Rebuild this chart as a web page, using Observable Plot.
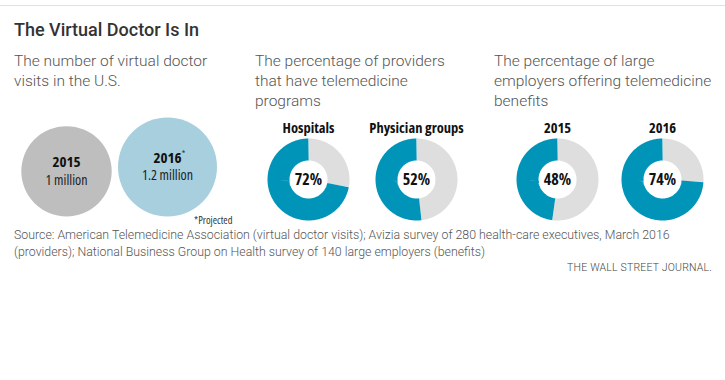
<!DOCTYPE html>
<html>
<head>
<meta charset="utf-8">
<script src="https://cdn.jsdelivr.net/npm/d3@7"></script>
<script src="https://cdn.jsdelivr.net/npm/@observablehq/plot@0.6"></script>
<style>
  body { margin: 0; background: #fff; font-family: Roboto, "Noto Sans", sans-serif; }
  #wrap { position: relative; width: 725px; height: 380px; overflow: hidden; }
  .abs { position: absolute; }
  .rule { left: 0; top: 5px; width: 725px; height: 1px; background: #e0e0e0; }
  .title { left: 14px; top: 20px; font-size: 18px; font-weight: 500; color: #333; line-height: 20px; white-space: nowrap; }
  .sub { top: 51px; font-size: 15.5px; font-weight: 300; color: #555; line-height: 20px; white-space: nowrap; }
  .src { left: 14px; top: 227px; width: 711px; font-size: 12.35px; font-weight: 300; color: #555; line-height: 17px; white-space: nowrap; }
  .wsj { right: 13px; top: 261px; font-size: 10.5px; font-weight: 300; color: #444; letter-spacing: 0.2px; }
  svg { overflow: visible; }
  #wrap svg text { font-stretch: 75%; }
</style>
</head>
<body>
<div id="wrap">
  <div class="abs rule"></div>
  <div class="abs title">The Virtual Doctor Is In</div>
  <div class="abs sub" style="left:14px">The number of virtual doctor<br>visits in the U.S.</div>
  <div class="abs sub" style="left:255px">The percentage of providers<br>that have telemedicine<br>programs</div>
  <div class="abs sub" style="left:494px">The percentage of large<br>employers offering telemedicine<br>benefits</div>
  <div class="abs src">Source: American Telemedicine Association (virtual doctor visits); Avizia survey of 280 health-care executives, March 2016<br>(providers); National Business Group on Health survey of 140 large employers (benefits)</div>
  <div class="abs wsj">THE WALL STREET JOURNAL.</div>
</div>
<script>
// ---- data ----
const visitYears = ["2015", "2016"];
const visitMillions = [1, 1.2];
const visitLabels = ["1 million", "1.2 million"];
const visitProjected = [false, true];

const providerCategories = ["Hospitals", "Physician groups"];
const providerPercents = [72, 52];

const employerYears = ["2015", "2016"];
const employerPercents = [48, 74];

// ---- styles ----
const condensed = "'Open Sans', 'DejaVu Sans Condensed', 'DejaVu Sans', sans-serif";
const wrap = document.getElementById("wrap");

function place(node, left, top) {
  node.style.position = "absolute";
  node.style.left = left + "px";
  node.style.top = top + "px";
  wrap.appendChild(node);
}

// ---- bubbles ----
const visits = visitYears.map((y, i) => ({year: y, value: visitMillions[i], label: visitLabels[i], proj: visitProjected[i]}));
const rMax = 49.5;
const bubble = Plot.plot({
  width: 240, height: 120,
  margin: 0,
  x: {type: "point", padding: 0, domain: visitYears, range: [65.5, 166.5], axis: null},
  y: {domain: [0, Math.sqrt(d3.max(visitMillions))], range: [111, 111 - rMax], axis: null},
  r: {type: "sqrt", domain: [0, d3.max(visitMillions)], range: [0, rMax]},
  marks: [
    Plot.dot(visits, {x: "year", y: d => Math.sqrt(d.value), r: "value", fill: d => d.proj ? "#a7cfde" : "#bebebe", stroke: null}),
    Plot.text(visits, {x: "year", y: d => Math.sqrt(d.value), text: "year", dy: -9, fontWeight: "bold", fontSize: 15, fill: "#111", fontFamily: condensed}),
    Plot.text(visits.filter(d => d.proj), {x: "year", y: d => Math.sqrt(d.value), text: () => "*", dx: 16, dy: -13, fontSize: 9, fill: "#333", fontFamily: condensed}),
    Plot.text(visits, {x: "year", y: d => Math.sqrt(d.value), text: "label", dy: 9, fontSize: 14, fill: "#222", fontFamily: condensed}),
    Plot.text(["*Projected"], {frameAnchor: "bottom-right", dx: -8, dy: -2, fontSize: 10.5, fill: "#333", fontFamily: condensed})
  ]
});
place(bubble, 0, 105);

// ---- donuts ----
const ringR = 30 / 41; // ring midline radius, in units of outer radius
function arcPoints(t0, t1) {
  const n = Math.max(2, Math.ceil((t1 - t0) * 240));
  return d3.range(n + 1).map(i => {
    const t = t0 + (t1 - t0) * i / n;
    return {x: -ringR * Math.sin(2 * Math.PI * t), y: ringR * Math.cos(2 * Math.PI * t)};
  });
}
function donut(label, pct) {
  const f = pct / 100;
  return Plot.plot({
    width: 100, height: 115,
    margin: 0,
    x: {domain: [-1, 1], range: [9, 91], axis: null},
    y: {domain: [-1, 1], range: [110, 28], axis: null},
    marks: [
      Plot.line(arcPoints(f, 1), {x: "x", y: "y", stroke: "#dedede", strokeWidth: 22, strokeLinecap: "butt", strokeLinejoin: "miter"}),
      Plot.line(arcPoints(0, f), {x: "x", y: "y", stroke: "#0094b9", strokeWidth: 22, strokeLinecap: "butt", strokeLinejoin: "miter"}),
      Plot.text([pct + "%"], {x: () => 0, y: () => 0, fontSize: 16, fontWeight: "bold", fill: "#111", fontFamily: condensed}),
      Plot.text([label], {frameAnchor: "top", dy: 12, fontSize: 14.5, fontWeight: "bold", fill: "#111", fontFamily: condensed})
    ]
  });
}
place(donut(providerCategories[0], providerPercents[0]), 257.5, 110);
place(donut(providerCategories[1], providerPercents[1]), 366, 110);
place(donut(employerYears[0], employerPercents[0]), 506.5, 110);
place(donut(employerYears[1], employerPercents[1]), 611.5, 110);
</script>
</body>
</html>
